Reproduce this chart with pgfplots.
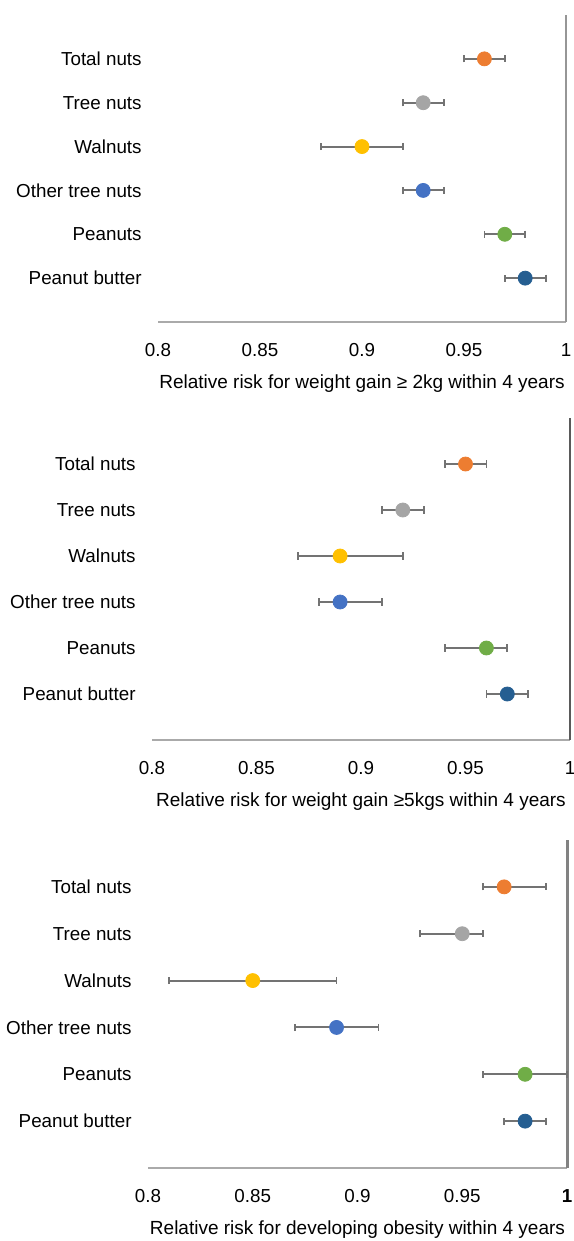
\documentclass[border=0pt]{standalone}
\usepackage{pgfplots}
\pgfplotsset{compat=1.18}
\usepackage{pgfplotstable}
\usepackage{fontspec}
\setmainfont{Liberation Sans}
\definecolor{cOr}{RGB}{237,125,49}
\definecolor{cGr}{RGB}{165,165,165}
\definecolor{cYe}{RGB}{255,192,0}
\definecolor{cBl}{RGB}{68,114,196}
\definecolor{cGn}{RGB}{112,173,71}
\definecolor{cDb}{RGB}{37,94,145}
\definecolor{errc}{RGB}{115,115,115}
\definecolor{axc}{RGB}{170,170,170}

% y: 6=Total nuts ... 1=Peanut butter ; ep/em = upper/lower CI distance
\pgfplotstableread{
y x ep em cls
6 0.96 0.01 0.01 a
5 0.93 0.01 0.01 b
4 0.90 0.02 0.02 c
3 0.93 0.01 0.01 d
2 0.97 0.01 0.01 e
1 0.98 0.01 0.01 f
}\tabA
\pgfplotstableread{
y x ep em cls
6 0.95 0.01 0.01 a
5 0.92 0.01 0.01 b
4 0.89 0.03 0.02 c
3 0.89 0.02 0.01 d
2 0.96 0.01 0.02 e
1 0.97 0.01 0.01 f
}\tabB
\pgfplotstableread{
y x ep em cls
6 0.97 0.02 0.01 a
5 0.95 0.01 0.02 b
4 0.85 0.04 0.04 c
3 0.89 0.02 0.02 d
2 0.98 0.02 0.02 e
1 0.98 0.01 0.01 f
}\tabC

\pgfplotsset{
  nutax/.style={
    scale only axis, anchor=south west,
    xmin=0.8, xmax=1, ymin=0, ymax=7,
    axis line style={draw=none},
    xtick={0.8,0.85,0.9,0.95,1},
    xticklabels={0.8,0.85,0.9,0.95,1},
    ytick={1,2,3,4,5,6},
    yticklabels={Peanut butter,Peanuts,Other tree nuts,Walnuts,Tree nuts,Total nuts},
    major tick length=0pt, tick style={draw=none},
    tick label style={font=\fontsize{9.4}{11}\selectfont, text=black},
    yticklabel style={anchor=east, inner sep=0pt, xshift=-8pt},
    xticklabel style={anchor=base, inner sep=0pt, yshift=-17.4pt},
    x label style={at={(axis description cs:0.5,0)}, anchor=base, inner sep=0pt, yshift=-33pt, font=\fontsize{9.5}{11}\selectfont},
    clip=false,
  },
  errp/.style={only marks, mark=none, forget plot,
    error bars/.cd, x dir=both, x explicit,
    error bar style={draw=errc, line width=1pt},
    error mark options={rotate=90, mark size=1.8pt, draw=errc, line width=0.9pt}},
  dotp/.style={scatter, only marks, scatter src=explicit symbolic, mark size=3.5pt,
    scatter/classes={
      a={mark=*, draw=cOr, fill=cOr},
      b={mark=*, draw=cGr, fill=cGr},
      c={mark=*, draw=cYe, fill=cYe},
      d={mark=*, draw=cBl, fill=cBl},
      e={mark=*, draw=cGn, fill=cGn},
      f={mark=*, draw=cDb, fill=cDb}}},
}

\begin{document}
\begin{tikzpicture}
\useasboundingbox (0,0) rectangle (286.5pt,-620.5pt);

\begin{axis}[nutax, at={(79pt,-161pt)}, width=204pt, height=153.5pt,
  xlabel={Relative risk for weight gain ≥ 2kg within 4 years}]
  \draw[axc, line width=1pt] (rel axis cs:0,0) -- (rel axis cs:1,0);
  \draw[color={rgb,255:red,150;green,150;blue,150}, line width=1pt] (rel axis cs:1,0) -- (rel axis cs:1,1);
  \addplot[errp] table[x=x, y=y, x error plus=ep, x error minus=em] {\tabA};
  \addplot[dotp] table[x=x, y=y, meta=cls] {\tabA};
\end{axis}

\begin{axis}[nutax, at={(76pt,-370pt)}, width=209pt, height=161pt,
  xlabel={Relative risk for weight gain ≥5kgs within 4 years}]
  \draw[axc, line width=1pt] (rel axis cs:0,0) -- (rel axis cs:1,0);
  \draw[color={rgb,255:red,90;green,90;blue,90}, line width=1pt] (rel axis cs:1,0) -- (rel axis cs:1,1);
  \addplot[errp] table[x=x, y=y, x error plus=ep, x error minus=em] {\tabB};
  \addplot[dotp] table[x=x, y=y, meta=cls] {\tabB};
\end{axis}

\begin{axis}[nutax, at={(74pt,-584pt)}, width=209.5pt, height=164pt,
  xticklabels={0.8,0.85,0.9,0.95,\textbf{1}},
  xlabel={Relative risk for developing obesity within 4 years}]
  \draw[axc, line width=1pt] (rel axis cs:0,0) -- (rel axis cs:1,0);
  \draw[color={rgb,255:red,130;green,130;blue,130}, line width=1.5pt] (rel axis cs:1,0) -- (rel axis cs:1,1);
  \addplot[errp] table[x=x, y=y, x error plus=ep, x error minus=em] {\tabC};
  \addplot[dotp] table[x=x, y=y, meta=cls] {\tabC};
\end{axis}
\end{tikzpicture}
\end{document}
